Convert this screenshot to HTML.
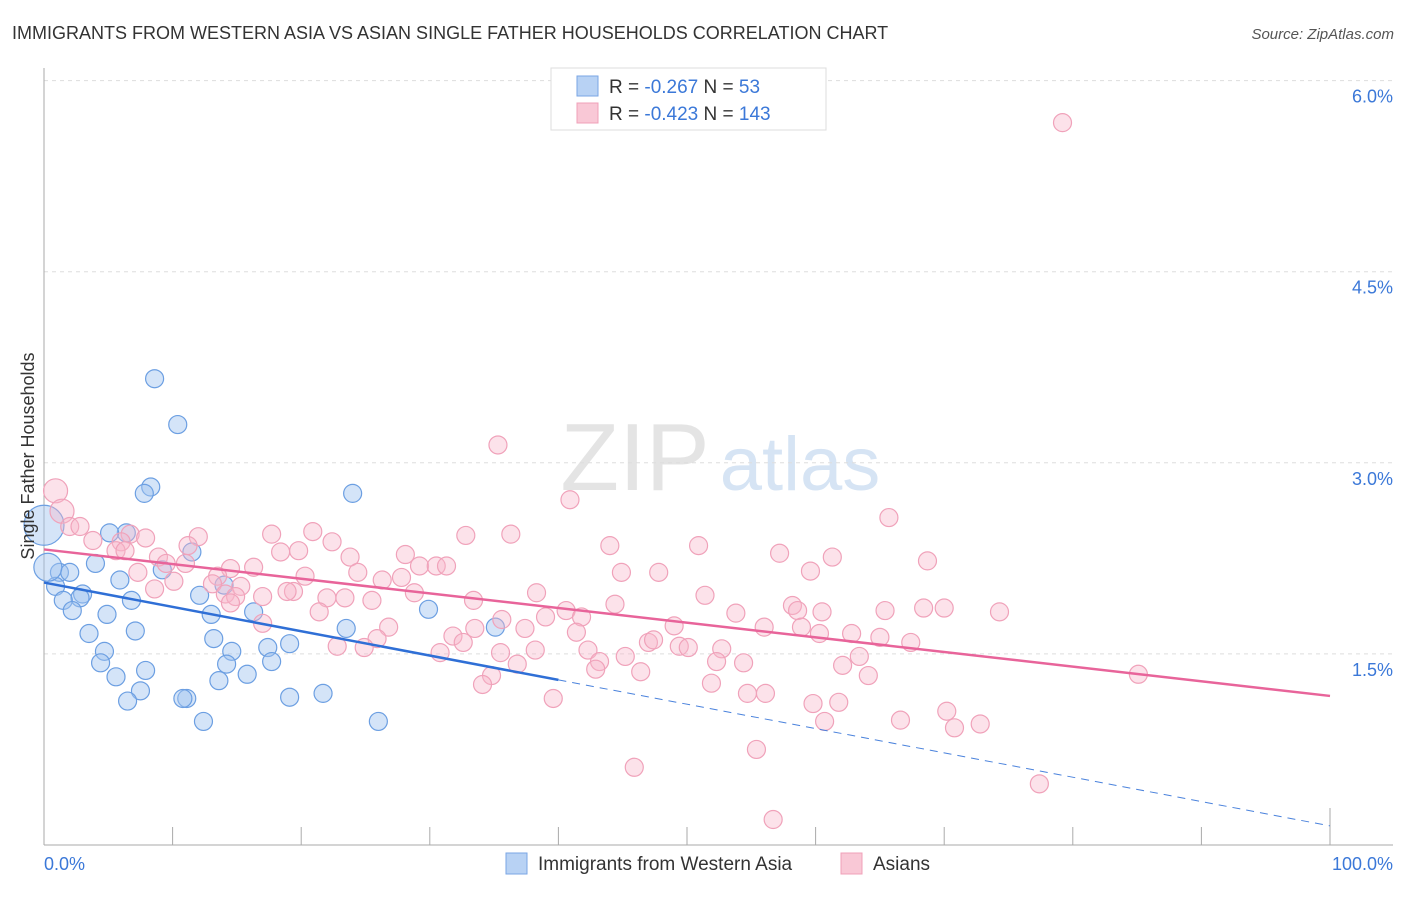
<!DOCTYPE html>
<html><head><meta charset="utf-8"><style>
body{margin:0;background:#fff;font-family:"Liberation Sans",sans-serif}
svg text{font-family:"Liberation Sans",sans-serif}
</style></head><body>
<svg id="chart" width="1406" height="892" viewBox="0 0 1406 892" xmlns="http://www.w3.org/2000/svg">
<text x="12" y="39" font-size="18" fill="#333">IMMIGRANTS FROM WESTERN ASIA VS ASIAN SINGLE FATHER HOUSEHOLDS CORRELATION CHART</text>
<text x="1394" y="39" font-size="15" fill="#555" text-anchor="end" font-style="italic">Source: ZipAtlas.com</text>
<g><text x="635" y="490" font-size="96" fill="#e4e4e4" text-anchor="middle" font-family="Liberation Serif">ZIP</text><text x="800" y="490" font-size="76" fill="#d6e4f4" text-anchor="middle">atlas</text></g>
<g id="grid"></g>
<g id="axes"></g>
<g id="blue"></g>
<g id="pink"></g>
<g id="trends"></g>
<text transform="translate(34,456) rotate(-90)" font-size="18" fill="#333" text-anchor="middle">Single Father Households</text>
<g>
<rect x="551" y="68" width="275" height="62" fill="#fff" stroke="#ddd"/>
<rect x="577" y="76" width="21" height="20" fill="#b8d2f4" stroke="#7aa6e4"/>
<rect x="577" y="103" width="21" height="20" fill="#f9c8d6" stroke="#f0a0b8"/>
<text x="609" y="93" font-size="19" fill="#333">R = <tspan fill="#3b78d8">-0.267</tspan>   N = <tspan fill="#3b78d8">  53</tspan></text>
<text x="609" y="120" font-size="19" fill="#333">R = <tspan fill="#3b78d8">-0.423</tspan>   N = <tspan fill="#3b78d8">143</tspan></text>
</g>
<g>
<rect x="506" y="853" width="21" height="21" fill="#b8d2f4" stroke="#7aa6e4"/>
<text x="538" y="870" font-size="19" fill="#333">Immigrants from Western Asia</text>
<rect x="841" y="853" width="21" height="21" fill="#f9c8d6" stroke="#f0a0b8"/>
<text x="873" y="870" font-size="19" fill="#333">Asians</text>
</g>
</svg>
<script>
const yTicks=[1.5,3.0,4.5,6.0];
const yTickLabels=["1.5%","3.0%","4.5%","6.0%"];
const xTickLabels=["0.0%","100.0%"];
const blueX=[8.6,10.4,8.3,7.8,24.0,6.4,5.1,11.5,4.0,1.2,2.0,0.9,9.2,5.9,3.0,2.8,1.5,6.8,2.2,4.9,12.1,14.0,13.0,16.3,29.9,7.1,3.5,23.5,13.2,4.7,14.6,17.4,19.1,35.1,4.4,7.9,14.2,17.7,5.6,13.6,15.8,7.5,11.1,6.5,10.8,19.1,21.7,12.4,26.0,0.0,0.3];
const blueY=[3.66,3.30,2.81,2.76,2.76,2.45,2.45,2.30,2.21,2.14,2.14,2.03,2.16,2.08,1.97,1.94,1.92,1.92,1.84,1.81,1.96,2.04,1.81,1.83,1.85,1.68,1.66,1.70,1.62,1.52,1.52,1.55,1.58,1.71,1.43,1.37,1.42,1.44,1.32,1.29,1.34,1.21,1.15,1.13,1.15,1.16,1.19,0.97,0.97,2.51,2.18];
const blueR=[9,9,9,9,9,9,9,9,9,9,9,9,9,9,9,9,9,9,9,9,9,9,9,9,9,9,9,9,9,9,9,9,9,9,9,9,9,9,9,9,9,9,9,9,9,9,9,9,9,20,14];
const pinkX=[79.2,35.3,40.9,65.7,0.9,1.4,2.0,2.8,20.9,17.7,32.8,36.3,12.0,6.7,7.9,6.0,3.8,22.4,23.8,11.2,44.0,50.9,57.2,61.3,68.7,5.6,6.3,28.1,18.4,19.8,8.9,11.0,16.3,14.5,9.5,7.3,10.1,13.5,24.4,26.3,27.8,29.2,30.5,31.3,44.9,47.8,59.6,20.3,13.1,15.3,19.4,17.0,18.9,8.6,14.1,14.9,14.5,22.0,23.4,25.5,28.8,33.4,38.3,44.4,51.4,58.2,53.8,60.5,65.4,68.4,70.0,74.3,40.6,41.8,39.0,35.6,33.5,37.4,58.6,58.9,17.0,21.4,26.8,41.4,49.0,56.0,62.8,60.3,65.0,67.4,25.9,31.8,32.6,42.3,47.0,47.4,49.4,50.1,52.7,22.8,24.9,30.8,38.2,35.5,45.2,43.2,52.3,54.4,62.1,63.4,42.9,46.4,36.8,34.8,64.1,85.1,34.1,51.9,54.7,56.1,39.6,59.8,61.8,70.2,66.6,60.7,70.8,72.8,55.4,45.9,77.4,56.7];
const pinkY=[5.67,3.14,2.71,2.57,2.78,2.62,2.50,2.50,2.46,2.44,2.43,2.44,2.42,2.44,2.41,2.38,2.39,2.38,2.26,2.35,2.35,2.35,2.29,2.26,2.23,2.31,2.31,2.28,2.30,2.31,2.26,2.21,2.18,2.17,2.21,2.14,2.07,2.11,2.14,2.08,2.10,2.19,2.19,2.19,2.14,2.14,2.15,2.11,2.05,2.03,1.99,1.95,1.99,2.01,1.97,1.95,1.90,1.94,1.94,1.92,1.98,1.92,1.98,1.89,1.96,1.88,1.82,1.83,1.84,1.86,1.86,1.83,1.84,1.79,1.79,1.77,1.70,1.70,1.84,1.71,1.74,1.83,1.71,1.67,1.72,1.71,1.66,1.66,1.63,1.59,1.62,1.64,1.59,1.53,1.59,1.61,1.56,1.55,1.54,1.56,1.55,1.51,1.53,1.51,1.48,1.44,1.44,1.43,1.41,1.48,1.38,1.36,1.42,1.33,1.33,1.34,1.26,1.27,1.19,1.19,1.15,1.11,1.12,1.05,0.98,0.97,0.92,0.95,0.75,0.61,0.48,0.20];
const blueTrend=[2.06,0.15];
const blueSolidEnd=40;
const pinkTrend=[2.32,1.17];

const NS="http://www.w3.org/2000/svg";
const sx=v=>44+v*12.86;
const sy=v=>845-v*127.4;
function mk(tag,attrs,parent){const e=document.createElementNS(NS,tag);for(const k in attrs)e.setAttribute(k,attrs[k]);parent.appendChild(e);return e;}
const grid=document.getElementById('grid'),axes=document.getElementById('axes');
yTicks.forEach((t,i)=>{
  const l=mk('line',{x1:44,x2:1393,y1:sy(t),y2:sy(t),stroke:'#ddd','stroke-dasharray':'4,4'},grid);
  
  
  const tx=mk('text',{x:1393,y:sy(t)+22,'font-size':18,fill:'#3b78d8','text-anchor':'end'},axes);
  tx.textContent=yTickLabels[i];
  
  
});
const ax=mk('line',{x1:44,x2:1393,y1:845,y2:845,stroke:'#aaa'},axes);


const ay=mk('line',{x1:44,x2:44,y1:68,y2:845,stroke:'#aaa'},axes);


for(let i=0;i<=10;i++){
  const t=mk('line',{x1:sx(i*10),x2:sx(i*10),y1:i==10?808:827,y2:845,stroke:'#aaa'},axes);
  
  
}
[0,100].forEach((v,i)=>{
  const tx=mk('text',{x:i?1393:44,y:870,'font-size':18,fill:'#3b78d8','text-anchor':i?'end':'start'},axes);
  tx.textContent=xTickLabels[i];
  
  
});
const bg=document.getElementById('blue');
blueX.forEach((x,i)=>{
  const c=mk('circle',{cx:sx(x),cy:sy(blueY[i]),r:blueR[i],fill:'rgba(160,196,240,0.45)',stroke:'#6c9fe2','stroke-width':1.2},bg);
  
  
});
const pg=document.getElementById('pink');
pinkX.forEach((x,i)=>{
  const r=(i>=4&&i<=5)?12:9;
  const c=mk('circle',{cx:sx(x),cy:sy(pinkY[i]),r:r,fill:'rgba(248,182,202,0.4)',stroke:'#f0a2ba','stroke-width':1.2},pg);
  
  
});
const tg=document.getElementById('trends');
const by=x=>blueTrend[0]+(blueTrend[1]-blueTrend[0])*x/100;
const py=x=>pinkTrend[0]+(pinkTrend[1]-pinkTrend[0])*x/100;
let l=mk('line',{x1:sx(0),y1:sy(py(0)),x2:sx(100),y2:sy(py(100)),stroke:'#e8649a','stroke-width':2.5},tg);


l=mk('line',{x1:sx(0),y1:sy(by(0)),x2:sx(blueSolidEnd),y2:sy(by(blueSolidEnd)),stroke:'#2f6fd6','stroke-width':2.5},tg);


l=mk('line',{x1:sx(blueSolidEnd),y1:sy(by(blueSolidEnd)),x2:sx(100),y2:sy(by(100)),stroke:'#4a82dc','stroke-width':1,'stroke-dasharray':'8,6'},tg);


</script>
</body></html>
